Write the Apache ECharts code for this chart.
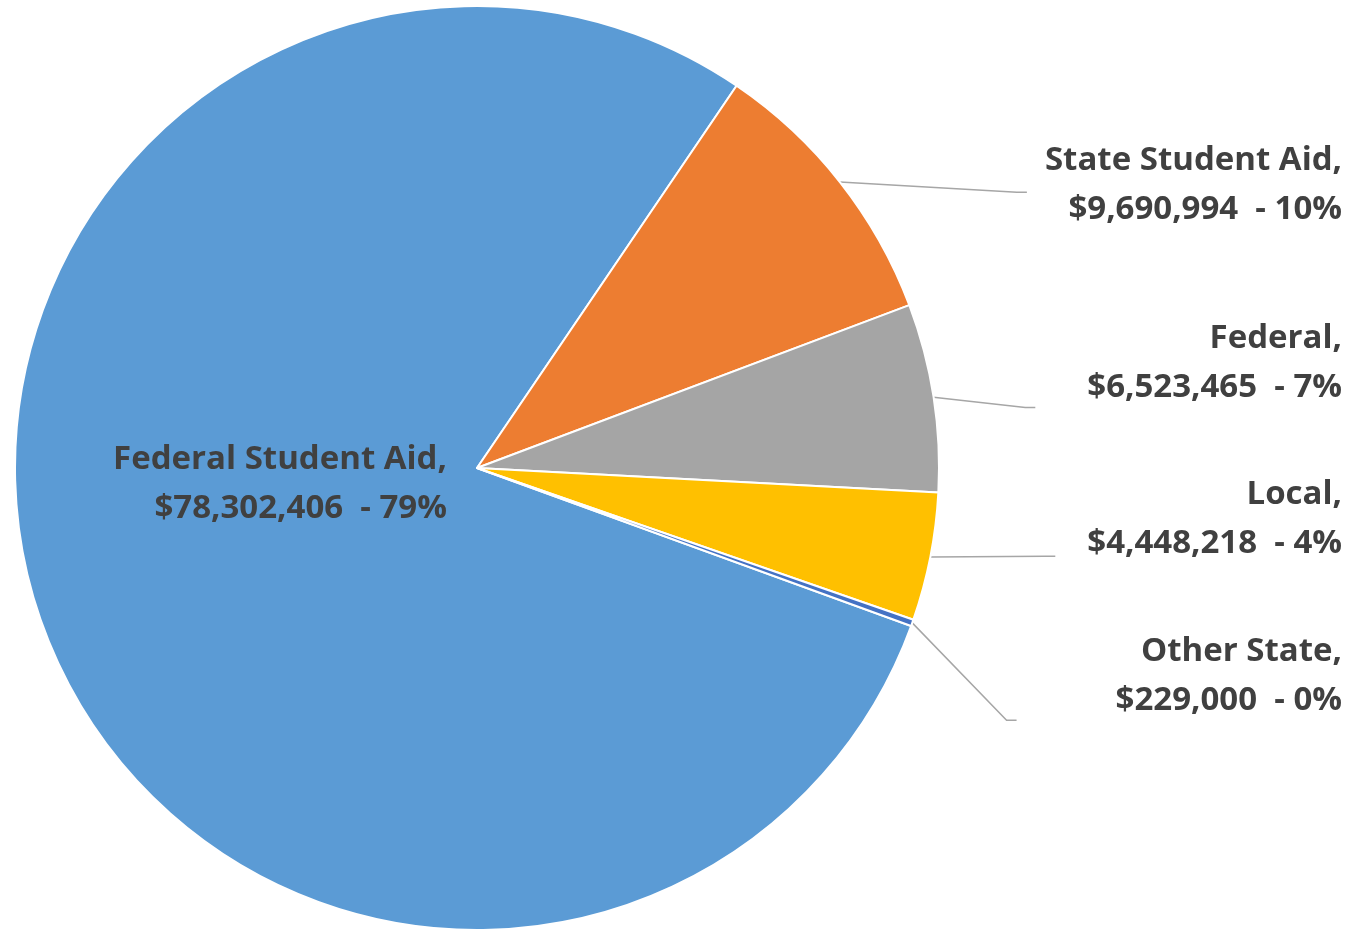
<!DOCTYPE html>
<html>
<head>
<meta charset="utf-8">
<script src="https://cdn.jsdelivr.net/npm/echarts@6/dist/echarts.min.js"></script>
<style>
html,body{margin:0;padding:0;background:#fff;}
#chart{width:1351px;height:932px;}
</style>
</head>
<body>
<div id="chart"></div>
<script>
const categories = ['Federal Student Aid', 'State Student Aid', 'Federal', 'Local', 'Other State'];
const amounts = [78302406, 9690994, 6523465, 4448218, 229000];
const colors = ['#5B9BD5', '#ED7D31', '#A5A5A5', '#FFC000', '#4472C4'];

// label placement tweaks (vertical shift, where the leader line meets the label box)
const labelShift = [0, 7, -33, -39, 18];
const lineEndFrac = [0, 0.57, 0.95, 0.88, 0.95];
const lineEndGap = [0, 18, 52, 32, 99];

const FONT = '"Open Sans", sans-serif';
const chart = echarts.init(document.getElementById('chart'), null, {renderer: 'canvas'});

function fmt(p) {
  return p.name + ',\n$' + p.value.toLocaleString('en-US') + '  - ' + Math.round(p.percent) + '%';
}

const data = categories.map((c, i) => {
  const item = {name: c, value: amounts[i], itemStyle: {color: colors[i]}};
  if (i === 0) {
    item.label = {
      position: 'center',
      offset: [-197, 16],
      formatter: p => '{r|' + p.name + ',}\n{r|$' + p.value.toLocaleString('en-US') + '  - ' + Math.round(p.percent) + '%}',
      rich: {r: {align: 'right', fontFamily: FONT, fontWeight: 'bold', fontSize: 33, color: '#404040', lineHeight: 49}}
    };
    item.labelLine = {show: false};
  }
  return item;
});

chart.setOption({
  animation: false,
  series: [{
    type: 'pie',
    center: [477, 468],
    radius: [0, 462],
    startAngle: 340,
    clockwise: true,
    data: data,
    itemStyle: {borderColor: '#ffffff', borderWidth: 2},
    label: {
      show: true,
      position: 'outside',
      alignTo: 'edge',
      edgeDistance: 9,
      distanceToLabelLine: 16,
      formatter: fmt,
      fontFamily: FONT,
      fontWeight: 'bold',
      fontSize: 33,
      lineHeight: 49,
      color: '#404040'
    },
    labelLine: {
      show: true,
      length: 6,
      length2: 20,
      lineStyle: {color: '#A6A6A6', width: 1.5}
    },
    labelLayout: function (params) {
      const i = params.dataIndex;
      if (i === 0 || !params.labelLinePoints) return {};
      const r = params.labelRect;
      const pts = params.labelLinePoints;
      const dy = labelShift[i];
      const endY = r.y + dy + r.height * lineEndFrac[i];
      const endX = r.x - lineEndGap[i];
      return {
        dy: dy,
        labelLinePoints: [pts[0].slice(), [endX - 10, endY], [endX, endY]]
      };
    },
    emphasis: {disabled: true}
  }]
});
</script>
</body>
</html>
